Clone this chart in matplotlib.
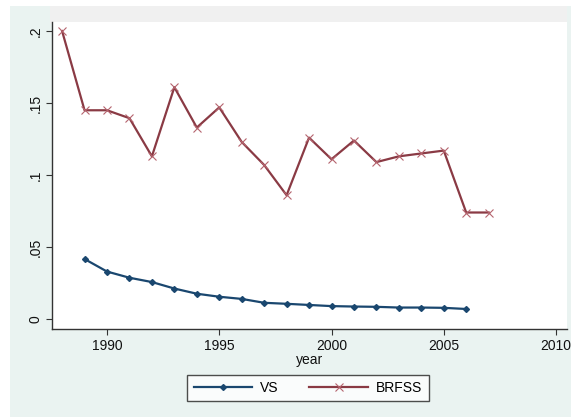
import matplotlib
matplotlib.use('Agg')
import matplotlib.pyplot as plt
from matplotlib.patches import Rectangle

plt.rcParams['font.family'] = ['Liberation Sans', 'DejaVu Sans']

# rates by survey year
vs_years = list(range(1989, 2007))
vs_rate = [0.0417, 0.0330, 0.0287, 0.0257, 0.0212, 0.0176, 0.0155, 0.0140,
           0.0113, 0.0106, 0.0098, 0.0090, 0.0087, 0.0085, 0.0080, 0.0080,
           0.0078, 0.0070]

brfss_years = list(range(1988, 2008))
brfss_rate = [0.200, 0.145, 0.145, 0.1395, 0.113, 0.161, 0.133, 0.147,
              0.123, 0.107, 0.086, 0.126, 0.111, 0.124, 0.109, 0.113,
              0.115, 0.117, 0.074, 0.074]

x_ticks = [1990, 1995, 2000, 2005, 2010]
y_ticks = [0, 0.05, 0.1, 0.15, 0.2]
y_labels = ['0', '.05', '.1', '.15', '.2']

W, H = 571, 417
fig = plt.figure(figsize=(W / 100, H / 100), dpi=100, facecolor='white')

def px(x0, y0, x1, y1):
    # pixel box -> figure fraction rectangle
    return (x0 / W, 1 - y1 / H), (x1 - x0) / W, (y1 - y0) / H

# graph region behind the axes
xy, w, h = px(10, 6, W, H)
fig.patches.append(Rectangle(xy, w, h, transform=fig.transFigure,
                             facecolor='#eaf3f1', edgecolor='none', zorder=-5))
xy, w, h = px(50, 6, 567, 24)
fig.patches.append(Rectangle(xy, w, h, transform=fig.transFigure,
                             facecolor='#f0f0f0', edgecolor='none', zorder=-4))

ax = fig.add_axes([52 / W, 1 - 329 / H, (567 - 52) / W, (329 - 22) / H])
ax.set_zorder(1)
ax.set_facecolor('white')

navy = '#1a476f'
maroon = '#8a3a44'

ax.plot(vs_years, vs_rate, color=navy, lw=1.6, marker='D', ms=3.0,
        mfc=navy, mec=navy, label='VS')
ax.plot(brfss_years, brfss_rate, color=maroon, lw=1.6, marker='x', ms=5.5,
        mew=0.8, mec='#b5646e', label='BRFSS')

ax.set_xlim(1987.55, 2010.49)
ax.set_ylim(-0.0069, 0.2063)

ax.set_xticks(x_ticks)
ax.set_yticks(y_ticks)
ax.set_yticklabels(y_labels, rotation=90, va='center')
ax.tick_params(axis='both', length=4, width=0.8, color='#333333',
               labelsize=10, pad=3, labelcolor='#111111')

for side in ('top', 'right'):
    ax.spines[side].set_visible(False)
for side in ('left', 'bottom'):
    ax.spines[side].set_color('#333333')
    ax.spines[side].set_linewidth(1.0)

ax.set_xlabel('year', fontsize=10, labelpad=0, color='#111111')

leg = fig.legend(loc='center', bbox_to_anchor=(308 / W, 1 - 388 / H), ncol=2,
                 frameon=True, fancybox=False, fontsize=10, handlelength=4.2,
                 columnspacing=2.2, borderpad=0.45, handletextpad=0.6)
leg.get_frame().set_edgecolor('#222222')
leg.get_frame().set_linewidth(1.0)
leg.set_zorder(2)

fig.savefig('out.png', dpi=100, facecolor=fig.get_facecolor())
